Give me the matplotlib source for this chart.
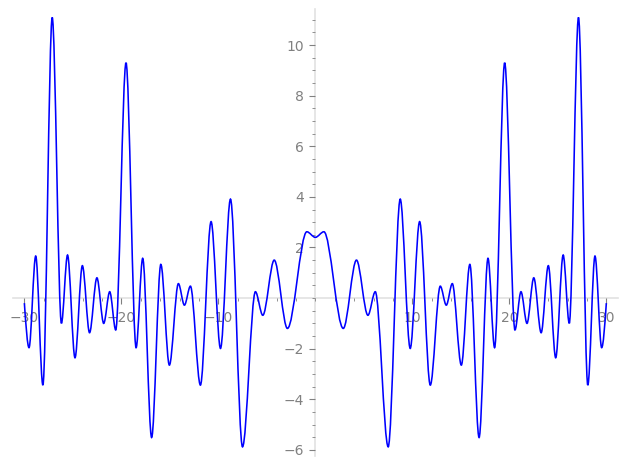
import matplotlib
matplotlib.use("Agg")
import matplotlib.pyplot as plt
from matplotlib.path import Path
from matplotlib.patches import PathPatch
from matplotlib.ticker import FixedLocator, MultipleLocator

# Extrema (and end points) of the curve
x_pts = [-30.0, -29.52, -28.83, -28.09, -27.13, -26.18, -25.55, -24.78, -24.02,
         -23.28, -22.52, -21.82, -21.20, -20.58, -19.52, -18.48, -17.80, -16.88,
         -15.93, -15.05, -14.12, -13.50, -12.88, -11.85, -10.75, -9.78, -8.75,
         -7.51, -6.18, -5.42, -4.24, -2.88, -0.88, 0.0,
         0.88, 2.88, 4.24, 5.42, 6.18, 7.51, 8.75, 9.78, 10.75, 11.85, 12.88,
         13.50, 14.12, 15.05, 15.93, 16.88, 17.80, 18.48, 19.52, 20.58, 21.20,
         21.82, 22.52, 23.28, 24.02, 24.78, 25.55, 26.18, 27.13, 28.09, 28.83,
         29.52, 30.0]
y_pts = [-0.20, -1.96, 1.66, -3.44, 11.09, -1.00, 1.70, -2.36, 1.28,
         -1.37, 0.80, -1.00, 0.25, -1.26, 9.30, -1.96, 1.57, -5.51,
         1.33, -2.65, 0.57, -0.28, 0.47, -3.44, 3.02, -1.99, 3.91,
         -5.88, 0.25, -0.68, 1.50, -1.20, 2.62, 2.40,
         2.62, -1.20, 1.50, -0.68, 0.25, -5.88, 3.91, -1.99, 3.02, -3.44, 0.47,
         -0.28, 0.57, -2.65, 1.33, -5.51, 1.57, -1.96, 9.30, -1.26, 0.25,
         -1.00, 0.80, -1.37, 1.28, -2.36, 1.70, -1.00, 11.09, -3.44, 1.66,
         -1.96, -0.20]

x_major = [-30, -20, -10, 10, 20, 30]
y_major = [-6, -4, -2, 2, 4, 6, 8, 10]

fig = plt.figure(figsize=(6.27, 4.68), dpi=100)
ax = fig.add_axes([0.0203, 0.0263, 0.9653, 0.9537])

# smooth curve through the extrema (horizontal tangents at extrema)
n = len(x_pts)
verts = [(x_pts[0], y_pts[0])]
codes = [Path.MOVETO]
for i in range(1, n):
    x0, y0 = x_pts[i - 1], y_pts[i - 1]
    x1, y1 = x_pts[i], y_pts[i]
    dx = x1 - x0
    c1y = y0
    c2y = y1
    if i == 1:
        c1y = y0 + (y1 - y0) * 0.5
    if i == n - 1:
        c2y = y1 - (y1 - y0) * 0.5
    verts += [(x0 + dx / 3, c1y), (x1 - dx / 3, c2y), (x1, y1)]
    codes += [Path.CURVE4] * 3

patch = PathPatch(Path(verts, codes), facecolor="none", edgecolor="blue",
                  lw=1.15, zorder=3, transform=ax.transData)
ax.add_patch(patch)

ax.set_xlim(-31.2, 31.2)
ax.set_ylim(-6.23, 11.41)

for s in ["top", "right"]:
    ax.spines[s].set_visible(False)
for s in ["left", "bottom"]:
    ax.spines[s].set_position(("data", 0))
    ax.spines[s].set_color("#e2e2e2")
    ax.spines[s].set_linewidth(1.2)
    ax.spines[s].set_zorder(1)

ax.xaxis.set_major_locator(FixedLocator(x_major))
ax.yaxis.set_major_locator(FixedLocator(y_major))
ax.xaxis.set_minor_locator(MultipleLocator(2))
ax.yaxis.set_minor_locator(MultipleLocator(0.5))

ax.tick_params(which="both", direction="out", colors="#808080",
               labelcolor="#808080", labelsize=10)
ax.tick_params(which="major", length=4, width=0.8, pad=4)
ax.tick_params(which="minor", length=2, width=0.6)
ax.tick_params(axis="x", which="major", pad=5)

ax.set_facecolor("white")
fig.savefig("out.png", dpi=100)
